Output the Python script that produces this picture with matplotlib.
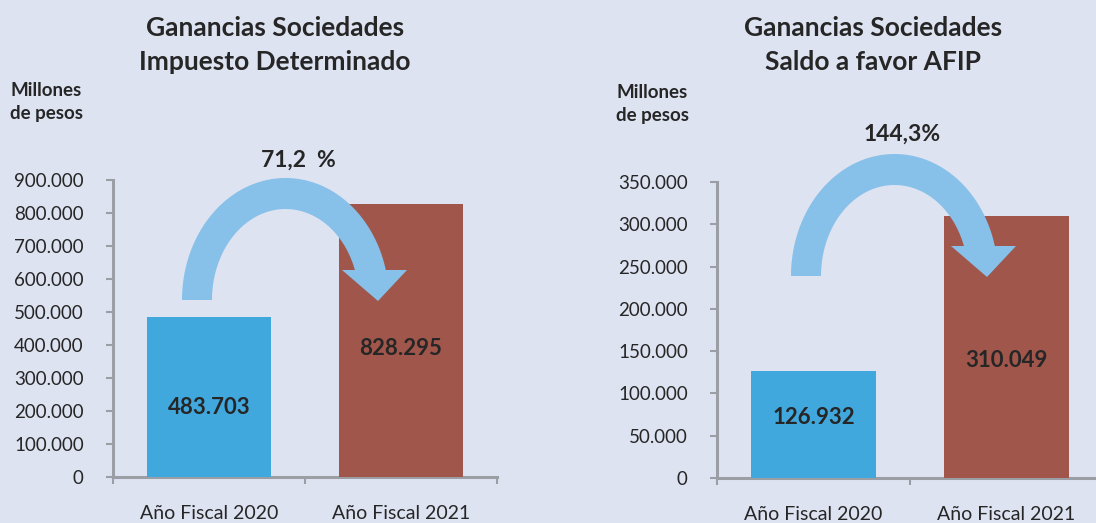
import numpy as np
import matplotlib
matplotlib.use("Agg")
import matplotlib.pyplot as plt
import matplotlib.transforms as mtransforms
from matplotlib.patches import Polygon

categories = ["Año Fiscal 2020", "Año Fiscal 2021"]
impuesto_values = [483703, 828295]
saldo_values = [126932, 310049]
impuesto_ticks = [0, 100000, 200000, 300000, 400000, 500000, 600000, 700000, 800000, 900000]
saldo_ticks = [0, 50000, 100000, 150000, 200000, 250000, 300000, 350000]
titles = ["Ganancias Sociedades\nImpuesto Determinado", "Ganancias Sociedades\nSaldo a favor AFIP"]
growth_labels = ["71,2  %", "144,3%"]
unit_label = "Millones\nde pesos"

BG = "#dde3f1"
BAR_COLORS = ["#41a8de", "#a0564b"]
ARROW = "#87c0e8"
TXT = "#262626"
SPINE = "#9b9ea5"
FONT = "Lato"

plt.rcParams["font.family"] = [FONT, "DejaVu Sans"]

fig = plt.figure(figsize=(10.96, 5.23), dpi=100, facecolor=BG)
W, H = 1096, 523


def fmt(v):
    return f"{v:,.0f}".replace(",", ".")


def make_axes(left_px, bottom_px, width_px, height_px):
    ax = fig.add_axes([left_px / W, (H - bottom_px) / H, width_px / W, height_px / H])
    ax.set_facecolor(BG)
    return ax


def draw_arrow(ax, cx, cy):
    # curved arrow shape, in pixels relative to axes origin
    ao, bo = 103.5, 122.0
    ai, bi = 73.5, 91.0
    hy = 30.0
    t_out = np.linspace(np.pi, np.arcsin(hy / bo), 80)
    t_in = np.linspace(np.arcsin(hy / bi), np.pi, 80)
    outer = np.column_stack([cx + ao * np.cos(t_out), cy + bo * np.sin(t_out)])
    inner = np.column_stack([cx + ai * np.cos(t_in), cy + bi * np.sin(t_in)])
    head = np.array([[cx + 121.5, cy + hy], [cx + 92.5, cy - 1.0], [cx + 56.5, cy + hy]])
    pts = np.vstack([outer, head, inner]) / 100.0
    trans = fig.dpi_scale_trans + mtransforms.ScaledTranslation(0, 0, ax.transAxes)
    poly = Polygon(pts, closed=True, facecolor=ARROW, edgecolor="none",
                   transform=trans, zorder=4, clip_on=False)
    ax.add_patch(poly)


def panel(ax, values, ticks, ymax, title, growth, title_x, growth_xy, unit_xy,
          arrow_c, label_ys):
    x = np.arange(len(categories))
    ax.bar(x, values, width=0.645, color=BAR_COLORS, zorder=3)
    ax.set_xlim(-0.5, 1.5)
    ax.set_ylim(0, ymax)
    ax.set_yticks(ticks)
    ax.set_yticklabels([fmt(t) for t in ticks], fontsize=13.5, color=TXT)
    ax.set_xticks([-0.5, 0.5, 1.5])
    ax.set_xticklabels([])
    ax.set_xticks(x, minor=True)
    ax.set_xticklabels(categories, minor=True, fontsize=14, color=TXT)
    ax.tick_params(axis="x", which="minor", length=0, pad=20)
    ax.tick_params(axis="x", which="major", direction="out", length=5,
                   width=1.5, color=SPINE)
    ax.tick_params(axis="y", direction="out", length=5, width=1.5,
                   color=SPINE, pad=16)
    for s in ["top", "right"]:
        ax.spines[s].set_visible(False)
    for s in ["left", "bottom"]:
        ax.spines[s].set_color(SPINE)
        ax.spines[s].set_linewidth(2.2)
    for xi, v, ly in zip(x, values, label_ys):
        ax.text(xi, ly, fmt(v), ha="center", va="center", fontsize=16,
                fontweight="bold", color=TXT, zorder=5)
    draw_arrow(ax, *arrow_c)
    fig.text(title_x / W, 1 - 45 / H, title, ha="center", va="center",
             fontsize=19, fontweight="bold", color=TXT, linespacing=1.55)
    fig.text(growth_xy[0] / W, 1 - growth_xy[1] / H, growth, ha="center",
             va="center", fontsize=16.5, fontweight="bold", color=TXT)
    fig.text(unit_xy[0] / W, 1 - unit_xy[1] / H, unit_label, ha="left",
             va="center", fontsize=13.5, fontweight="bold", color=TXT,
             linespacing=1.5)


ax1 = make_axes(113, 477, 384, 297)
panel(ax1, impuesto_values, impuesto_ticks, 900000, titles[0], growth_labels[0],
      275, (298, 160), (10, 102), (172.5, 177.0), [211000, 390000])

ax2 = make_axes(717, 478, 386, 296)
panel(ax2, saldo_values, saldo_ticks, 350000, titles[1], growth_labels[1],
      873, (902, 134), (616, 104), (177.5, 202.0), [72000, 139500])

fig.savefig("out.png", dpi=100, facecolor=BG)
